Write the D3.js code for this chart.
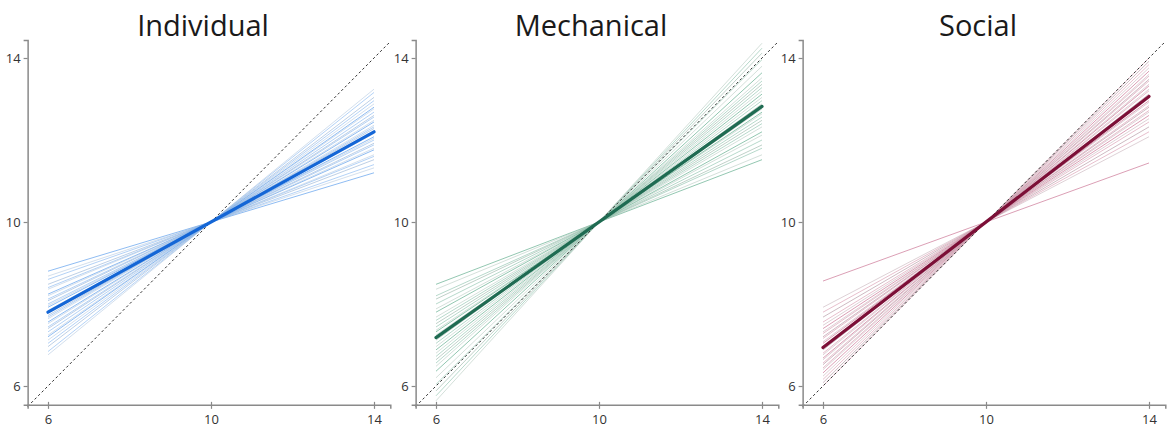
<!DOCTYPE html>
<html>
<head>
<meta charset="utf-8">
<script src="https://cdn.jsdelivr.net/npm/d3@7"></script>
<style>
  html, body { margin: 0; padding: 0; background: #fff; }
  svg { display: block; }
</style>
</head>
<body>
<svg id="chart" width="1171" height="428"></svg>
<script>
// Condition names shown as panel titles
const conditions = ["Individual", "Mechanical", "Social"];

// Axis ticks shared by every panel
const tickValues = [6, 10, 14];

// Per-participant slopes; every line passes through (10, 10)
const individualSlopes = [0.30, 0.33, 0.35, 0.38, 0.40, 0.41, 0.44, 0.45, 0.47, 0.48,
  0.50, 0.51, 0.52, 0.54, 0.55, 0.57, 0.58, 0.59, 0.61, 0.62,
  0.64, 0.65, 0.67, 0.69, 0.70, 0.72, 0.74, 0.76, 0.79, 0.81];
const mechanicalSlopes = [0.38, 0.41, 0.45, 0.47, 0.50, 0.53, 0.55, 0.58, 0.60, 0.62,
  0.64, 0.66, 0.67, 0.69, 0.71, 0.72, 0.74, 0.76, 0.78, 0.80,
  0.82, 0.84, 0.86, 0.88, 0.91, 0.95, 0.99, 1.03, 1.06, 1.09];
const socialSlopes = [0.36, 0.52, 0.55, 0.58, 0.61, 0.63, 0.65, 0.67, 0.68, 0.70,
  0.71, 0.73, 0.74, 0.76, 0.77, 0.78, 0.80, 0.81, 0.83, 0.84,
  0.86, 0.87, 0.89, 0.90, 0.92, 0.94, 0.96, 0.98, 1.00];

// Group-mean slopes (thick line)
const meanSlopes = [0.55, 0.705, 0.765];

const slopeSets = [individualSlopes, mechanicalSlopes, socialSlopes];
// two alternating tints per condition for the participant lines
const thinColors = [["#6aa6ee", "#a7bfdc"], ["#6fb497", "#a9c2b6"], ["#cf7f9c", "#bda3ad"]];
const meanColors = ["#1466d6", "#1f6b52", "#7c0f37"];

const svg = d3.select("#chart");
const panelLeft = [48, 436, 823];   // pixel position of x = 6 in each panel
const unit = 40.75;                 // pixels per data unit
const xDomain = [5.5, 14.4];
const yDomain = [5.54, 14.44];

conditions.forEach((name, i) => {
  const x = d3.scaleLinear().domain(xDomain)
    .range([panelLeft[i] + (xDomain[0] - 6) * unit, panelLeft[i] + (xDomain[1] - 6) * unit]);
  const y = d3.scaleLinear().domain(yDomain)
    .range([222 + (10 - yDomain[0]) * 41, 222 + (10 - yDomain[1]) * 41]);

  const g = svg.append("g");

  // Participant lines from x = 6 to x = 14
  const lineOf = s => [[6, 10 - 4 * s], [14, 10 + 4 * s]];
  const line = d3.line().x(d => x(d[0])).y(d => y(d[1]));

  g.selectAll("path.thin").data(slopeSets[i]).join("path")
    .attr("class", "thin")
    .attr("d", s => line(lineOf(s)))
    .attr("fill", "none")
    .attr("stroke", (s, k) => thinColors[i][k % 2])
    .attr("stroke-opacity", (s, k) => (k % 3 === 0 ? 0.75 : 0.5))
    .attr("stroke-width", 1);

  // Identity line
  g.append("path")
    .attr("d", line([[xDomain[0], xDomain[0]], [xDomain[1], xDomain[1]]]))
    .attr("stroke", "#333")
    .attr("stroke-width", 1)
    .attr("stroke-dasharray", "2.5,2.5")
    .attr("fill", "none");

  // Mean line
  g.append("path")
    .attr("d", line(lineOf(meanSlopes[i])))
    .attr("fill", "none")
    .attr("stroke", meanColors[i])
    .attr("stroke-width", 3.2)
    .attr("stroke-linecap", "round");

  // Axes
  const xAxis = d3.axisBottom(x).tickValues(tickValues).tickSize(4).tickPadding(6);
  const yAxis = d3.axisLeft(y).tickValues(tickValues).tickSize(4).tickPadding(3);

  const gx = g.append("g").attr("transform", `translate(0,${y(yDomain[0])})`).call(xAxis);
  const gy = g.append("g").attr("transform", `translate(${x(xDomain[0])},0)`).call(yAxis);

  [gx, gy].forEach(a => {
    a.select(".domain").attr("stroke", "#8a8a8a").attr("stroke-width", 1.5);
    a.selectAll(".tick line").attr("stroke", "#8a8a8a").attr("stroke-width", 1.2);
    a.selectAll(".tick text")
      .attr("fill", "#333")
      .style("font-family", "'Open Sans', sans-serif")
      .style("font-size", "13px");
  });
  gx.selectAll(".tick line").attr("y1", -3);

  // Title
  svg.append("text")
    .attr("x", x(10) - 8)
    .attr("y", 36)
    .attr("text-anchor", "middle")
    .style("font-family", "'Open Sans', sans-serif")
    .style("font-size", "29px")
    .attr("fill", "#1a1a1a")
    .text(name);
});
</script>
</body>
</html>
